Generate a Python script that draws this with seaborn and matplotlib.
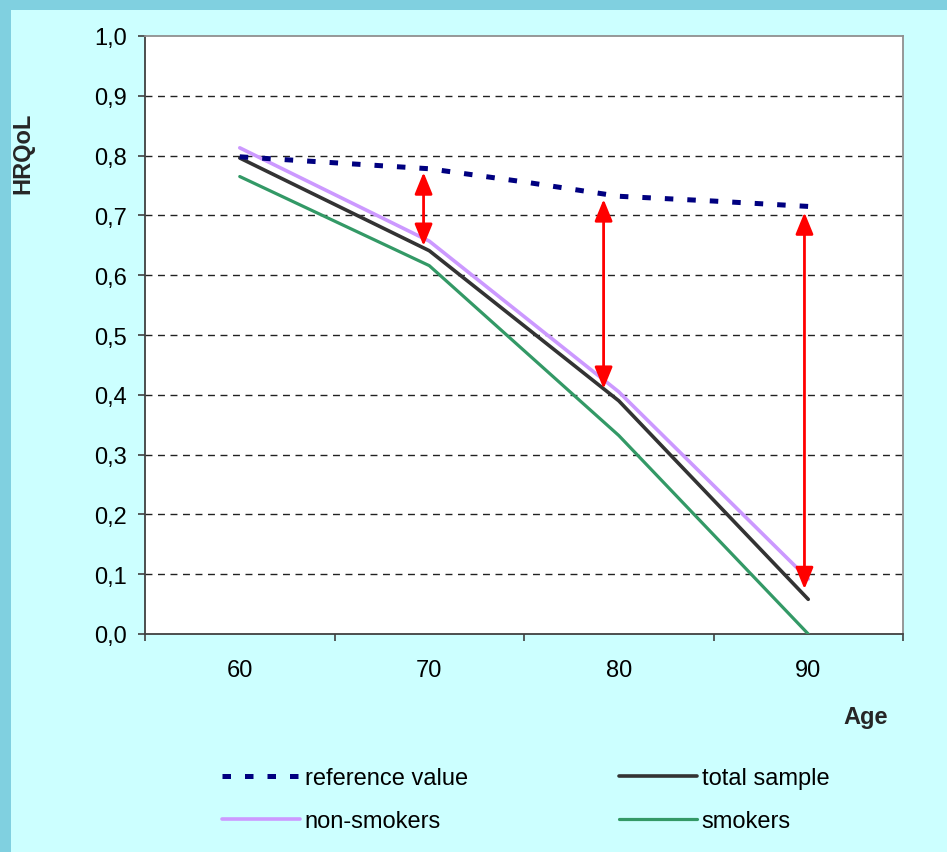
import numpy as np
import pandas as pd
import matplotlib
matplotlib.use("Agg")
import matplotlib.pyplot as plt
import matplotlib.patches as mpatches
from matplotlib.ticker import FuncFormatter, FixedLocator
import seaborn as sns

# ---- data ----
ages = [60, 70, 80, 90]
total_sample = [0.796, 0.641, 0.390, 0.058]
non_smokers = [0.813, 0.657, 0.405, 0.092]
smokers = [0.765, 0.616, 0.332, 0.0]
ref_ages = [60, 65, 70, 75, 80, 85, 90]
reference_value = [0.798, 0.788, 0.778, 0.756, 0.732, 0.724, 0.715]
arrow_ages = [69.7, 79.2, 89.8]
arrow_top = [0.772, 0.727, 0.705]
arrow_bottom = [0.649, 0.410, 0.075]
y_ticks = [0.0, 0.1, 0.2, 0.3, 0.4, 0.5, 0.6, 0.7, 0.8, 0.9, 1.0]

sns.set_theme(style="white")
plt.rcParams["font.family"] = ["Liberation Sans", "DejaVu Sans"]

W, H = 947, 853
FS = 17
fig = plt.figure(figsize=(W / 100, H / 100), dpi=100, facecolor="#CCFFFF")
# outer darker border (left and top)
fig.patches.append(mpatches.Rectangle((0, 0), 11 / W, 1, transform=fig.transFigure,
                                      facecolor="#80D0E0", edgecolor="none", zorder=0))
fig.patches.append(mpatches.Rectangle((0, 1 - 11 / H), 1, 11 / H, transform=fig.transFigure,
                                      facecolor="#80D0E0", edgecolor="none", zorder=0))

left, right, top, bottom = 145, 903, 37, 635
ax = fig.add_axes([left / W, 1 - bottom / H, (right - left) / W, (bottom - top) / H])
ax.set_facecolor("white")

df_ref = pd.DataFrame({"age": ref_ages, "val": reference_value})
df_tot = pd.DataFrame({"age": ages, "val": total_sample})
df_non = pd.DataFrame({"age": ages, "val": non_smokers})
df_smk = pd.DataFrame({"age": ages, "val": smokers})

sns.lineplot(data=df_non, x="age", y="val", ax=ax, color="#CC99FF", lw=2.6,
             label="non-smokers", zorder=3)
sns.lineplot(data=df_smk, x="age", y="val", ax=ax, color="#339966", lw=2.3,
             label="smokers", zorder=3)
sns.lineplot(data=df_tot, x="age", y="val", ax=ax, color="#333333", lw=2.6,
             label="total sample", zorder=4)
sns.lineplot(data=df_ref, x="age", y="val", ax=ax, color="#000080", lw=3.6,
             label="reference value", zorder=4)
for ln in ax.get_lines():
    if ln.get_label() == "reference value":
        ln.set_linestyle((0, (1.7, 2.8)))
        ln.set_dash_capstyle("butt")
    else:
        ln.set_solid_capstyle("round")

for xa, yt, yb in zip(arrow_ages, arrow_top, arrow_bottom):
    ax.annotate("", xy=(xa, yb), xytext=(xa, yt),
                arrowprops=dict(arrowstyle="<|-|>,head_length=1.1,head_width=0.45",
                                color="#FF0000", lw=2, shrinkA=0, shrinkB=0),
                zorder=6)

ax.set_xlim(55, 95)
ax.set_ylim(0, 1.0)
ax.yaxis.set_major_locator(FixedLocator(y_ticks))
ax.yaxis.set_major_formatter(FuncFormatter(lambda v, p: f"{v:.1f}".replace(".", ",")))
ax.xaxis.set_major_locator(FixedLocator(ages))
ax.xaxis.set_minor_locator(FixedLocator([55, 65, 75, 85, 95]))
ax.set_xticklabels([str(a) for a in ages])
ax.tick_params(axis="y", which="major", direction="out", length=5, width=1.2,
               color="#404040", labelsize=FS, pad=8, left=True, labelcolor="black")
ax.tick_params(axis="x", which="major", length=0, labelsize=FS, pad=18, labelcolor="black")
ax.tick_params(axis="x", which="minor", direction="out", length=5, width=1.2,
               color="#404040", bottom=True)

for yv in y_ticks[1:-1]:
    ax.axhline(yv, color="#222222", lw=1.0, linestyle=(0, (5, 4)), zorder=1)

for s in ["left", "bottom"]:
    ax.spines[s].set_color("#404040")
    ax.spines[s].set_linewidth(1.3)
for s in ["top", "right"]:
    ax.spines[s].set_color("#909090")
    ax.spines[s].set_linewidth(1.3)
    ax.spines[s].set_visible(True)

ax.set_xlabel("")
ax.set_ylabel("")
fig.text(23 / W, 1 - 153 / H, "HRQoL", rotation=90, ha="center", va="center",
         fontsize=FS, fontweight="bold")
fig.text(888 / W, 1 - 718 / H, "Age", ha="right", va="center",
         fontsize=FS, fontweight="bold")

ax.get_legend().remove()
handles, labels = ax.get_legend_handles_labels()
order = ["reference value", "non-smokers", "total sample", "smokers"]
hmap = dict(zip(labels, handles))
leg = fig.legend([hmap[k] for k in order], order, loc="upper left",
                 bbox_to_anchor=(222 / W, 1 - 768 / H), ncol=2, frameon=False,
                 fontsize=FS, handlelength=3.3, handletextpad=0.2,
                 columnspacing=6.4, labelspacing=0.88, borderpad=0, borderaxespad=0)
for t in leg.get_texts():
    t.set_color("black")

fig.savefig("out.png", dpi=100, facecolor=fig.get_facecolor())
